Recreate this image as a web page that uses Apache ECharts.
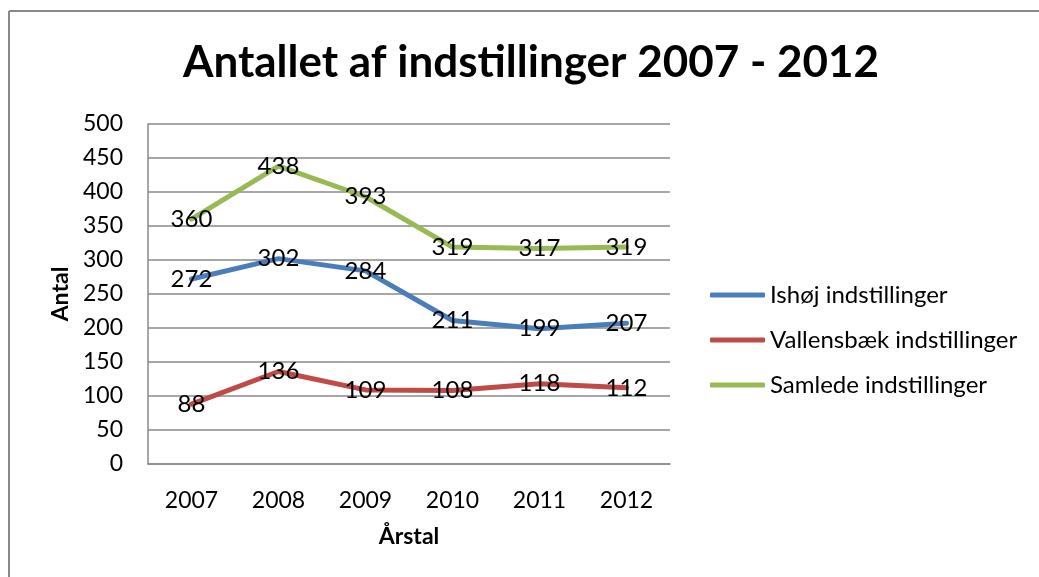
<!DOCTYPE html>
<html>
<head>
<meta charset="utf-8">
<script src="https://cdn.jsdelivr.net/npm/echarts@6/dist/echarts.min.js"></script>
<style>
  html, body { margin: 0; padding: 0; background: #fff; overflow: hidden; }
  #main { width: 1039px; height: 577px; }
</style>
</head>
<body>
<div id="main"></div>
<script>
// data
const years = ['2007', '2008', '2009', '2010', '2011', '2012']
const ishoj = [272, 302, 284, 211, 199, 207]
const vallensbaek = [88, 136, 109, 108, 118, 112]
const samlede = [360, 438, 393, 319, 317, 319]
const yTicks = [0, 500, 50] // min, max, step

const font = 'Lato, "Open Sans", sans-serif'
const gridColor = '#8a8a8a'

const chart = echarts.init(document.getElementById('main'))

const makeSeries = (name, data, color) => ({
  name: name,
  type: 'line',
  data: data,
  symbol: 'circle',
  symbolSize: 1,
  showSymbol: true,
  lineStyle: { width: 5, color: color, cap: 'round', join: 'round' },
  itemStyle: { color: color },
  label: {
    show: true,
    position: 'inside',
    color: '#000',
    fontFamily: font,
    fontSize: 24
  },
  emphasis: { disabled: true }
})

const option = {
  animation: false,
  title: {
    text: 'Antallet af indstillinger 2007 - 2012',
    left: 526,
    textAlign: 'center',
    top: 36,
    textStyle: { fontFamily: font, fontSize: 44, fontWeight: 'bold', color: '#000' }
  },
  // chart frame: only the top and left edges are inside the picture
  graphic: [
    {
      type: 'line',
      shape: { x1: 9, y1: 11, x2: 1039, y2: 11 },
      style: { stroke: '#888', lineWidth: 2 },
      silent: true
    },
    {
      type: 'line',
      shape: { x1: 9, y1: 11, x2: 9, y2: 577 },
      style: { stroke: '#888', lineWidth: 2 },
      silent: true
    }
  ],
  legend: {
    orient: 'vertical',
    left: 705,
    top: 278,
    itemWidth: 55,
    itemHeight: 5,
    itemGap: 21,
    icon: 'roundRect',
    textStyle: { fontFamily: font, fontSize: 24, color: '#000' },
    data: ['Ishøj indstillinger', 'Vallensbæk indstillinger', 'Samlede indstillinger']
  },
  grid: { left: 148, right: 369, top: 124, bottom: 113 },
  xAxis: {
    type: 'category',
    data: years,
    boundaryGap: true,
    name: 'Årstal',
    nameLocation: 'middle',
    nameGap: 61,
    nameTextStyle: { fontFamily: font, fontSize: 23, fontWeight: 'bold', color: '#000' },
    axisLine: { lineStyle: { color: gridColor, width: 1.5 } },
    axisTick: { show: false },
    axisLabel: { fontFamily: font, fontSize: 23, color: '#000', margin: 25 }
  },
  yAxis: {
    type: 'value',
    min: yTicks[0],
    max: yTicks[1],
    interval: yTicks[2],
    name: 'Antal',
    nameLocation: 'middle',
    nameGap: 76,
    nameTextStyle: { fontFamily: font, fontSize: 23, fontWeight: 'bold', color: '#000' },
    axisLine: { show: true, lineStyle: { color: gridColor, width: 1.5 } },
    axisTick: { show: false },
    axisLabel: { fontFamily: font, fontSize: 23, color: '#000', margin: 25 },
    splitLine: { lineStyle: { color: gridColor, width: 1.5 } }
  },
  series: [
    makeSeries('Ishøj indstillinger', ishoj, '#4a7ebb'),
    makeSeries('Vallensbæk indstillinger', vallensbaek, '#be4b48'),
    makeSeries('Samlede indstillinger', samlede, '#98b954')
  ]
}

chart.setOption(option)
</script>
</body>
</html>
